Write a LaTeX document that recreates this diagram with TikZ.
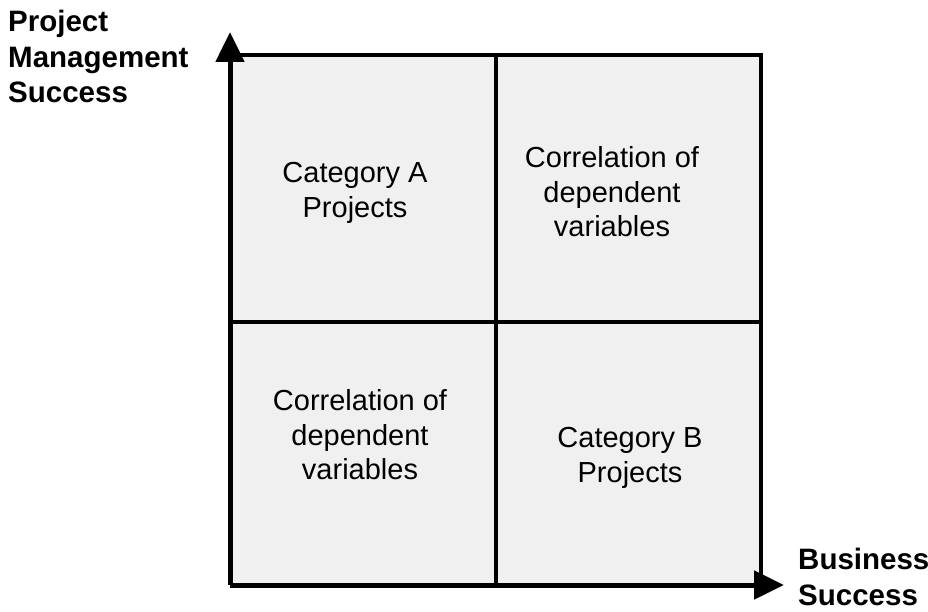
\documentclass[tikz,border=0pt]{standalone}
\usepackage{fontspec}
\setmainfont{Liberation Sans}
\usetikzlibrary{arrows.meta}
\begin{document}
\begin{tikzpicture}[x=1pt,y=-1pt,
  quad/.style={align=center,font=\fontsize{29}{34.5}\selectfont,inner sep=0pt},
  axlabel/.style={align=left,font=\fontsize{29.5}{35.5}\selectfont\bfseries,inner sep=0pt,anchor=north west},
  grid/.style={line width=4pt},
  axis/.style={line width=5pt,-{Triangle[length=30pt,width=28pt]}}]
\useasboundingbox (0,0) rectangle (928,612);
\coordinate (o) at (230,585);
\coordinate (tl) at (230,55);
\coordinate (br) at (761,585);
\coordinate (ytip) at (230,32);
\coordinate (xtip) at (784,585);
\fill[gray!12] (tl) rectangle (br);
\draw[grid] (tl) -- (761,55) -- (br);
\draw[grid] (496,55) -- (496,585);
\draw[grid] (230,322) -- (761,322);
\draw[axis] (o) -- (ytip);
\draw[axis] (o) -- (xtip);
\node[quad] (a) at (355,193) {Category A\\Projects};
\node[quad] (c1) at (612,192) {Correlation of\\dependent\\variables};
\node[quad] (c2) at (360,435) {Correlation of\\dependent\\variables};
\node[quad] (b) at (630,458) {Category B\\Projects};
\node[axlabel] (pm) at (8,10) {Project\\Management\\Success};
\node[axlabel] (bs) at (798,548) {Business\\Success};
\end{tikzpicture}
\end{document}
